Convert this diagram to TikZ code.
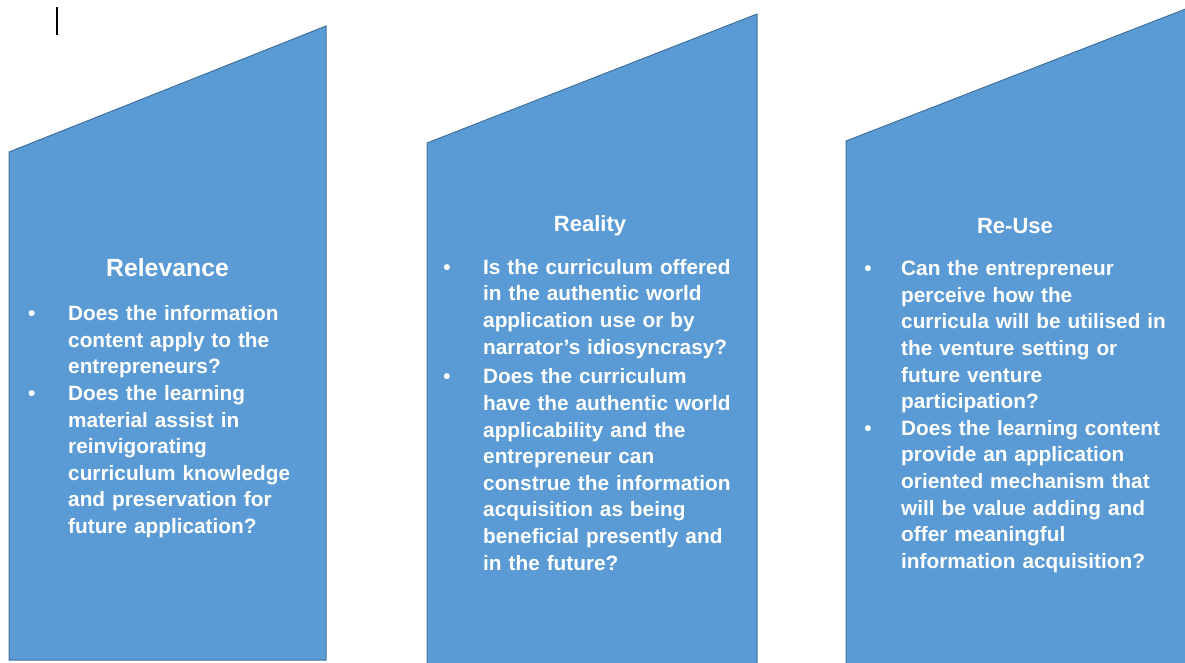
\documentclass[tikz,border=0pt]{standalone}
\usepackage{fontspec}
\setmainfont{Liberation Sans}
\definecolor{boxfill}{HTML}{5B9BD5}
\definecolor{boxline}{HTML}{41719C}
\begin{document}
\begin{tikzpicture}[x=1pt,y=-1pt,
  panel/.style={fill=boxfill,draw=boxline,line width=1pt},
  ttl/.style={text=white,font=\fontsize{22}{26}\selectfont\bfseries,inner sep=0pt,anchor=base},
  bigttl/.style={ttl,font=\fontsize{24.8}{28}\selectfont\bfseries},
  body/.style={text=white,font=\fontsize{20.8}{26.6}\selectfont\bfseries,inner sep=0pt,anchor=base west,text width=300pt,align=left},
  bul/.style={text=white,font=\fontsize{20.8}{26.6}\selectfont\bfseries,inner sep=0pt,anchor=base}]
\useasboundingbox (0,0) rectangle (1185,662);
\clip (0,0) rectangle (1185,662);
% cursor mark
\draw[black,line width=1.4pt] (57,7) -- (57,35);
% panels
\draw[panel] (9,152) -- (326,26) -- (326,660) -- (9,660) -- cycle;
\draw[panel] (427,143) -- (757,14) -- (757,672) -- (427,672) -- cycle;
\draw[panel] (846,141) -- (1192,6.5) -- (1192,672) -- (846,672) -- cycle;
% Relevance
\node[bigttl] (t1) at (167.5,276) {Relevance};
\node[bul] (b11) at (31.7,320.7) {•};
\node[body] (p11) at (68,320.7) {Does the information\\content apply to the\\entrepreneurs?};
\node[bul] (b12) at (31.7,400.5) {•};
\node[body] (p12) at (68,400.5) {Does the learning\\material assist in\\reinvigorating\\curriculum knowledge\\and preservation for\\future application?};
% Reality
\node[ttl] (t2) at (590,231) {Reality};
\node[bul] (b21) at (447,274.3) {•};
\node[body] (p21) at (483,274.3) {Is the curriculum offered\\in the authentic world\\application use or by\\narrator’s idiosyncrasy?};
\node[bul] (b22) at (447,383.8) {•};
\node[body] (p22) at (483,383.8) {Does the curriculum\\have the authentic world\\applicability and the\\entrepreneur can\\construe the information\\acquisition as being\\beneficial presently and\\in the future?};
% Re-Use
\node[ttl] (t3) at (1015,233) {Re-Use};
\node[bul] (b31) at (868,275.7) {•};
\node[body] (p31) at (901,275.7) {Can the entrepreneur\\perceive how the\\curricula will be utilised in\\the venture setting or\\future venture\\participation?};
\node[bul] (b32) at (868,435.3) {•};
\node[body] (p32) at (901,435.3) {Does the learning content\\provide an application\\oriented mechanism that\\will be value adding and\\offer meaningful\\information acquisition?};
\end{tikzpicture}
\end{document}
